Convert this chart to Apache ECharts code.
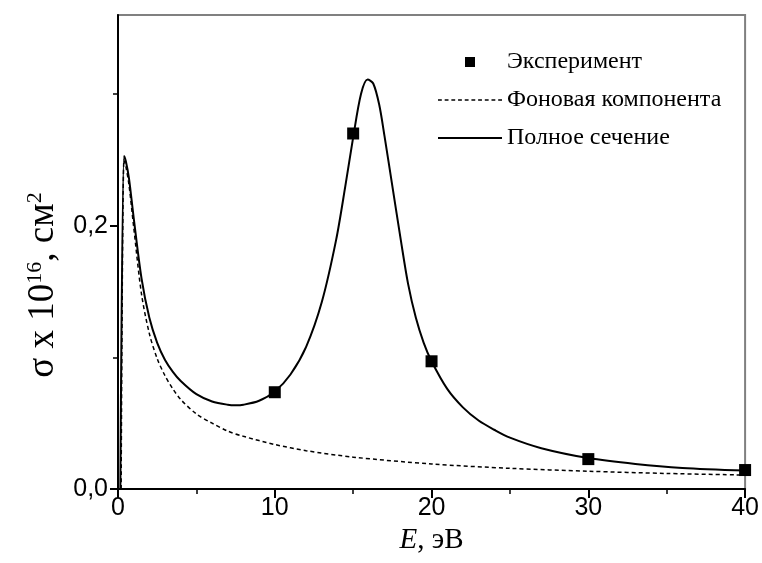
<!DOCTYPE html>
<html>
<head>
<meta charset="utf-8">
<script src="https://cdn.jsdelivr.net/npm/echarts@6/dist/echarts.min.js"></script>
<style>html,body{margin:0;padding:0;background:#fff;}#c{width:762px;height:563px;}</style>
</head>
<body>
<div id="c"></div>
<script>
// Experimental points
var expE = [10, 15, 20, 30, 40];
var expSigma = [0.0735, 0.270, 0.097, 0.0227, 0.0144];

// Total cross-section curve (solid)
var totalE = [0.15, 0.38, 0.5, 0.7, 1.0, 1.5, 2.0, 2.5, 3.0, 3.5, 4.0, 5.0, 6.0, 7.0, 7.5, 8.0, 9.0, 10.0, 11.0, 12.0, 13.0, 13.91, 14.5, 15.0, 15.5, 15.92, 16.28, 16.66, 17.0, 17.5, 18.04, 18.5, 19.0, 19.5, 20.0, 21.0, 22.0, 23.0, 24.0, 25.0, 27.0, 30.0, 33.0, 36.0, 40.0];
var totalSigma = [0.0, 0.253, 0.249, 0.236, 0.206, 0.160, 0.130, 0.111, 0.098, 0.089, 0.082, 0.072, 0.0665, 0.064, 0.0636, 0.064, 0.067, 0.074, 0.087, 0.108, 0.142, 0.189, 0.230, 0.267, 0.300, 0.311, 0.308, 0.292, 0.268, 0.230, 0.189, 0.156, 0.130, 0.111, 0.097, 0.076, 0.062, 0.052, 0.045, 0.039, 0.031, 0.0235, 0.019, 0.016, 0.014];

// Background component (dashed)
var bgE = [0.2, 0.38, 0.5, 0.7, 1.0, 1.5, 2.0, 2.5, 3.0, 3.5, 4.0, 5.0, 6.0, 7.0, 8.0, 10.0, 12.0, 15.0, 20.0, 25.0, 30.0, 35.0, 40.0];
var bgSigma = [0.0, 0.250, 0.245, 0.231, 0.199, 0.148, 0.118, 0.099, 0.086, 0.076, 0.068, 0.057, 0.050, 0.044, 0.040, 0.0338, 0.0291, 0.0242, 0.0190, 0.0157, 0.0135, 0.0118, 0.0106];

// Axis ticks
var xMajorTicks = [0, 10, 20, 30, 40];
var yMajorTicks = [0, 0.2];
var yMinorTicks = [0.1, 0.3];

var legendNames = ['Эксперимент', 'Фоновая компонента', 'Полное сечение'];

function zip(a, b) { return a.map(function (v, i) { return [v, b[i]]; }); }

// legend icon shapes
var dashIcon = 'path://';
for (var dx = 0; dx < 64; dx += 7) { dashIcon += 'M' + dx + ',0h4v1.5h-4z'; }
var solidIcon = 'path://M0,0h64v2h-64z';
var squareIcon = 'path://M0,0h10v10h-10z';

var chart = echarts.init(document.getElementById('c'), null, { renderer: 'canvas' });
var serif = 'Liberation Serif';
var sans = 'Liberation Sans';

chart.setOption({
  animation: false,
  backgroundColor: '#fff',
  grid: { left: 118, right: 13, top: 15, bottom: 74, show: true, borderColor: '#808080', borderWidth: 2, backgroundColor: 'transparent' },
  legend: {
    orient: 'vertical', left: 433, top: 44,
    itemWidth: 64, itemHeight: 10, itemGap: 12,
    textStyle: { fontFamily: serif, fontSize: 24, color: '#000', lineHeight: 26 },
    data: [
      { name: legendNames[0], icon: squareIcon },
      { name: legendNames[1], icon: dashIcon },
      { name: legendNames[2], icon: solidIcon }
    ]
  },
  xAxis: {
    type: 'value', min: 0, max: 40, interval: 10,
    name: '{i|E}{n|, эВ}', nameLocation: 'middle', nameGap: 32,
    nameTextStyle: { rich: {
      i: { fontFamily: serif, fontSize: 29, fontStyle: 'italic', color: '#000' },
      n: { fontFamily: serif, fontSize: 29, color: '#000' }
    } },
    axisLine: { lineStyle: { color: '#000', width: 2 } },
    axisTick: { show: true, inside: false, length: 9, lineStyle: { color: '#000', width: 2 }, customValues: xMajorTicks },
    minorTick: { show: true, splitNumber: 2, length: 5, lineStyle: { color: '#000', width: 1.5 } },
    axisLabel: { fontFamily: sans, fontSize: 25, color: '#000', margin: 7, customValues: xMajorTicks },
    splitLine: { show: false }
  },
  yAxis: [{
    type: 'value', min: 0, max: 0.36,
    name: '{a|σ x 10}{s|16}{a|, см}{e|2}', nameLocation: 'middle', nameGap: 56, nameRotate: 90,
    nameTextStyle: { rich: {
      a: { fontFamily: serif, fontSize: 37, color: '#000', verticalAlign: 'bottom' },
      s: { fontFamily: serif, fontSize: 22, color: '#000', padding: [0, 0, 16, 0], verticalAlign: 'bottom' },
      e: { fontFamily: serif, fontSize: 22, color: '#000', padding: [0, 66, 16, 0], verticalAlign: 'bottom' }
    } },
    axisLine: { lineStyle: { color: '#000', width: 2 } },
    axisTick: { show: true, inside: false, length: 8, lineStyle: { color: '#000', width: 2 }, customValues: yMajorTicks },
    axisLabel: { fontFamily: sans, fontSize: 25, color: '#000', margin: 10, customValues: yMajorTicks,
      formatter: function (v) { return v.toFixed(1).replace('.', ','); } },
    splitLine: { show: false }
  }, {
    type: 'value', min: 0, max: 0.36, position: 'left',
    axisLine: { show: false },
    axisTick: { show: true, inside: false, length: 5, lineStyle: { color: '#000', width: 1.5 }, customValues: yMinorTicks },
    axisLabel: { show: false },
    splitLine: { show: false }
  }],
  series: [{
    name: legendNames[1], type: 'line', showSymbol: false, symbol: 'none',
    data: zip(bgE, bgSigma), smooth: 0.3,
    lineStyle: { color: '#000', width: 1.5, type: [4, 3] },
    itemStyle: { color: '#000' }
  }, {
    name: legendNames[2], type: 'line', showSymbol: false, symbol: 'none',
    data: zip(totalE, totalSigma), smooth: 0.3,
    lineStyle: { color: '#000', width: 2 },
    itemStyle: { color: '#000' }
  }, {
    name: legendNames[0], type: 'scatter', symbol: 'rect', symbolSize: 12,
    data: zip(expE, expSigma),
    itemStyle: { color: '#000', opacity: 1 }, z: 5
  }]
});
</script>
</body>
</html>
